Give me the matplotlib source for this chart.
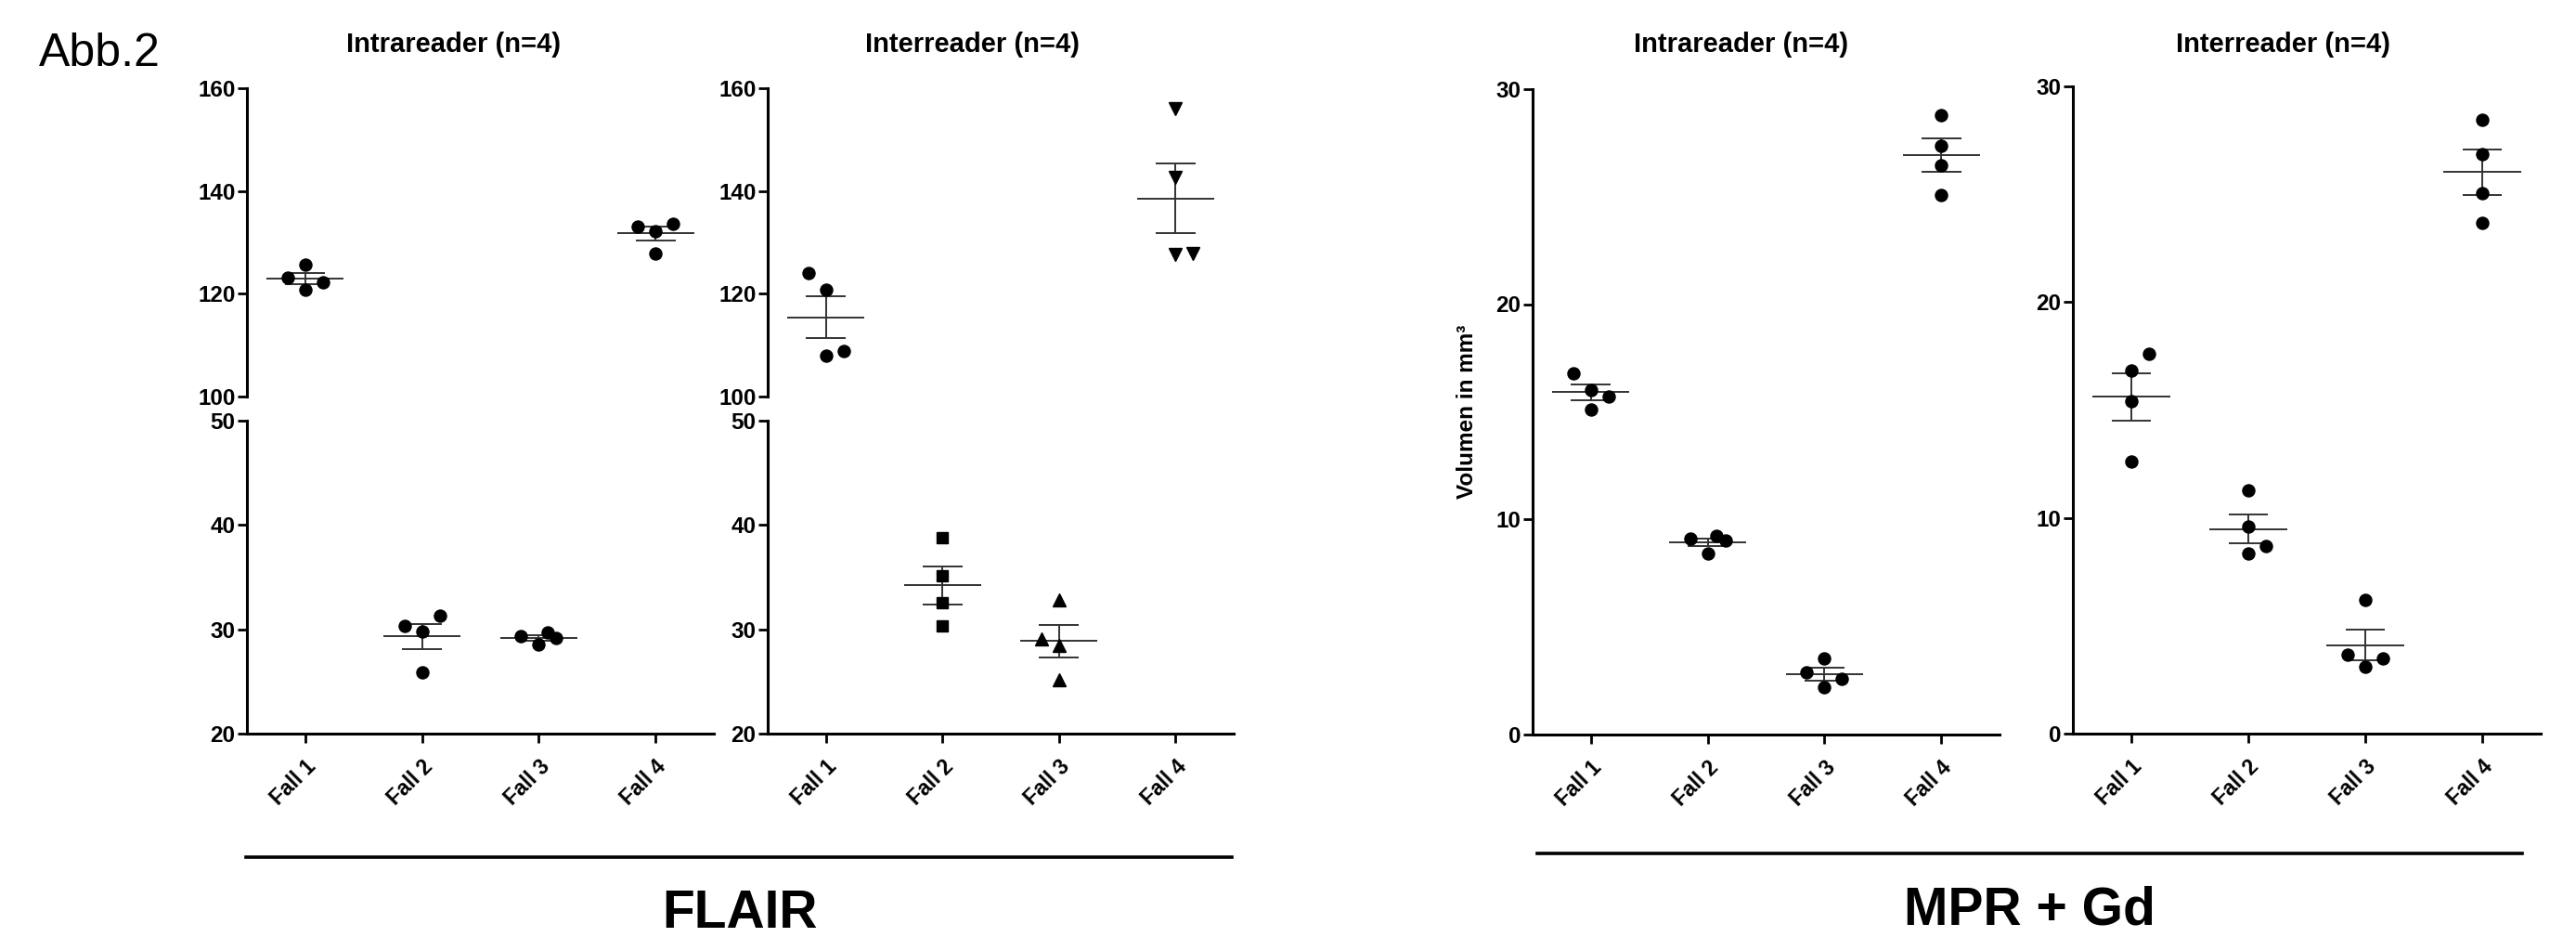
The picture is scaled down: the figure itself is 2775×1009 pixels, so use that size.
import numpy as np
import matplotlib
matplotlib.use('Agg')
from matplotlib import pyplot as plt
from matplotlib.lines import Line2D

plt.rcParams['font.family'] = ['Liberation Sans', 'DejaVu Sans']

#------------------------------------------#
# Data (volumes, 4 readings per case)
#------------------------------------------#

cases = ['Fall 1', 'Fall 2', 'Fall 3', 'Fall 4']

# FLAIR
flair_intra = [[125.7, 123.1, 122.2, 120.8],
               [30.3, 31.3, 29.8, 25.85],
               [29.33, 29.74, 29.15, 28.53],
               [133.1, 132.2, 133.7, 127.9]]
flair_inter = [[124.1, 120.8, 108.0, 108.8],
               [38.8, 35.15, 32.55, 30.3],
               [32.8, 29.1, 28.5, 25.15],
               [156.1, 142.6, 127.7, 127.9]]

# MPR + Gd
mpr_intra = [[16.79, 16.0, 15.71, 15.09],
             [9.08, 9.21, 8.99, 8.39],
             [3.52, 2.88, 2.58, 2.16],
             [28.78, 27.38, 26.47, 25.07]]
mpr_inter = [[17.61, 16.83, 15.43, 12.61],
             [11.29, 9.6, 8.68, 8.37],
             [6.19, 3.67, 3.48, 3.08],
             [28.47, 26.86, 25.07, 23.69]]

# horizontal spread of overlapping points (in half marker steps)
flair_intra_jit = [[0, -2, 2, 0], [-2, 2, 0, 0], [-2, 1, 2, 0], [-2, 0, 2, 0]]
flair_inter_jit = [[-2, 0, 0, 2], [0, 0, 0, 0], [0, -2, 0, 0], [0, 0, 0, 2]]
mpr_intra_jit = [[-2, 0, 2, 0], [-2, 1, 2, 0], [0, -2, 2, 0], [0, 0, 0, 0]]
mpr_inter_jit = [[2, 0, 0, 0], [0, 0, 2, 0], [0, -2, 2, 0], [0, 0, 0, 0]]

#------------------------------------------#
# Layout helpers
#------------------------------------------#

W, H = 2775, 1009
fig = plt.figure(figsize=(W / 100, H / 100), dpi=100)

JIT = 0.076
YLBL = 17.5
XLBL = 16.5


def add_ax(left, right, top, bottom):
    return fig.add_axes([left / W, 1 - bottom / H, (right - left) / W, (bottom - top) / H])


def draw_groups(ax, data, jit, markers):
    for i, vals in enumerate(data):
        vals = np.array(vals)
        x = i + 1 + np.array(jit[i]) * JIT
        mk, ms = markers[i]
        ax.plot(x, vals, ls='none', marker=mk, ms=ms, color='k', mec='k', zorder=3)
        m = vals.mean()
        s = vals.std(ddof=1) / np.sqrt(len(vals))
        c = i + 1
        ax.hlines(m, c - 0.33, c + 0.33, color='#333333', lw=1.4, zorder=2)
        ax.hlines([m - s, m + s], c - 0.17, c + 0.17, color='#333333', lw=1.4, zorder=2)
        ax.vlines(c, m - s, m + s, color='#333333', lw=1.4, zorder=2)


def style(ax, ylim, yticks, xaxis=True):
    ax.set_xlim(0.5, 4.5)
    ax.set_ylim(*ylim)
    ax.set_yticks(yticks)
    ax.spines['top'].set_visible(False)
    ax.spines['right'].set_visible(False)
    ax.spines['left'].set_linewidth(2.2)
    ax.spines['bottom'].set_linewidth(2.2)
    ax.tick_params(axis='y', direction='out', length=7, width=2, pad=2, labelsize=YLBL)
    for t in ax.get_yticklabels():
        t.set_fontweight('bold')
    if xaxis:
        ax.set_xticks([1, 2, 3, 4])
        ax.set_xticklabels(cases, rotation=45, ha='right', rotation_mode='anchor',
                           fontsize=XLBL, fontweight='bold')
        ax.tick_params(axis='x', direction='out', length=7.5, width=2, pad=10)
    else:
        ax.spines['bottom'].set_visible(False)
        ax.set_xticks([])


def break_tick(ax, y):
    ax.set_yticks([y], minor=True)
    ax.tick_params(axis='y', which='minor', direction='inout', length=12, width=2)


circ = [('o', 9.4)] * 4
inter_marks = [('o', 9.4), ('s', 8.8), ('^', 9.8), ('v', 9.8)]

#------------------------------------------#
# FLAIR panels (broken y axis)
#------------------------------------------#

for (left, right), data, jit, marks in [((266, 769), flair_intra, flair_intra_jit, circ),
                                        ((827, 1329), flair_inter, flair_inter_jit, inter_marks)]:
    up = add_ax(left, right, 95, 427)
    lo = add_ax(left, right, 453, 790)
    draw_groups(up, data, jit, marks)
    draw_groups(lo, data, jit, marks)
    style(up, (100, 160), [100, 120, 140, 160], xaxis=False)
    style(lo, (20, 50), [20, 30, 40, 50])
    break_tick(up, 100)
    break_tick(lo, 50)

#------------------------------------------#
# MPR + Gd panels
#------------------------------------------#

ax3 = add_ax(1651, 2154, 96, 790.5)
draw_groups(ax3, mpr_intra, mpr_intra_jit, circ)
style(ax3, (0, 30), [0, 10, 20, 30])
ax3.set_ylabel('Volumen in mm³', fontsize=17.5, fontweight='bold', labelpad=14)

ax4 = add_ax(2233, 2737, 93, 790)
draw_groups(ax4, mpr_inter, mpr_inter_jit, circ)
style(ax4, (0, 30), [0, 10, 20, 30])

#------------------------------------------#
# Titles, group lines, labels
#------------------------------------------#

for xc, title in [(489, 'Intrareader (n=4)'), (1047, 'Interreader (n=4)'),
                  (1876, 'Intrareader (n=4)'), (2459, 'Interreader (n=4)')]:
    fig.text(xc / W, 1 - 48 / H, title, ha='center', va='center', fontsize=21, fontweight='bold')

fig.add_artist(Line2D([265 / W, 1327 / W], [1 - 922.5 / H] * 2, lw=2.6, color='k'))
fig.add_artist(Line2D([1656 / W, 2717 / W], [1 - 918.5 / H] * 2, lw=2.6, color='k'))
fig.text(797 / W, 1 - 984 / H, 'FLAIR', ha='center', va='center', fontsize=41, fontweight='bold')
fig.text(2186 / W, 1 - 981 / H, 'MPR + Gd', ha='center', va='center', fontsize=41, fontweight='bold')

fig.text(42 / W, 1 - 58 / H, 'Abb.2', ha='left', va='center', fontsize=36)

fig.savefig('out.png', dpi=100)
